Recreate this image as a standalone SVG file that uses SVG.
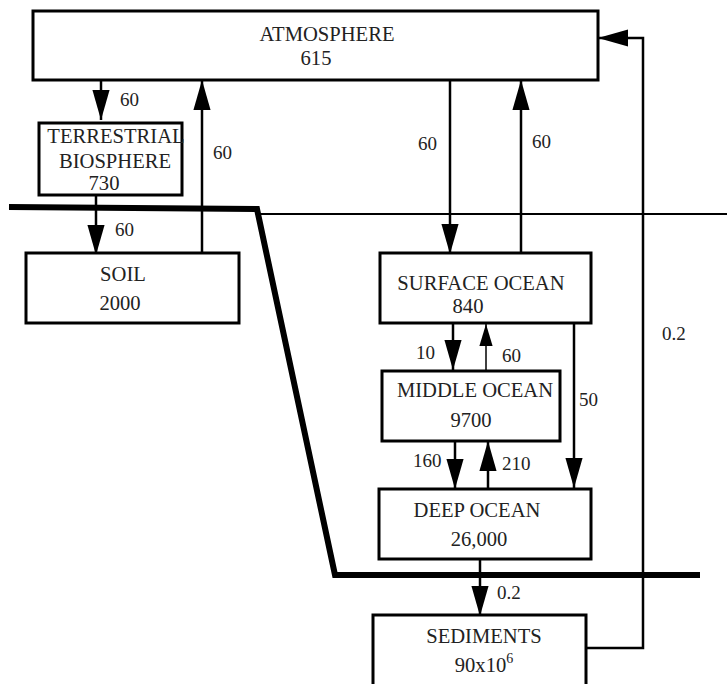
<svg xmlns="http://www.w3.org/2000/svg" width="727" height="684" viewBox="0 0 727 684">
<defs>
<style>
.box{fill:#fff;stroke:#000;stroke-width:3}
.t{font-family:"Liberation Serif","Times New Roman",serif;font-size:20.6px;fill:#222;text-anchor:middle}
.l{font-family:"Liberation Serif","Times New Roman",serif;font-size:19px;fill:#222}
.c{fill:none;stroke:#000;stroke-width:2.5}
.thin{fill:none;stroke:#000;stroke-width:1.5}
.bound{fill:none;stroke:#000;stroke-width:6;stroke-linejoin:miter}
</style>
<marker id="ah" markerUnits="userSpaceOnUse" markerWidth="30" markerHeight="20" viewBox="0 0 28 16" refX="28" refY="8" orient="auto">
<path d="M0,0 L28,8 L0,16 Z" fill="#000"/>
</marker>
<marker id="ahs" markerUnits="userSpaceOnUse" markerWidth="22" markerHeight="14" viewBox="0 0 20 12" refX="20" refY="6" orient="auto">
<path d="M0,0 L20,6 L0,12 Z" fill="#000"/>
</marker>
</defs>
<rect width="727" height="684" fill="#fff"/>
<g id="boundaries">
<path class="bound" d="M9,207 L257,209 L335,575 L700,575"/>
<path d="M257,214 L727,214" fill="none" stroke="#000" stroke-width="2"/>
</g>
<g id="connectors">
<path class="c" d="M101,80 L101,120" marker-end="url(#ah)"/>
<path class="c" d="M96,195 L96,255" marker-end="url(#ah)"/>
<path class="c" d="M202,253 L202,80" marker-end="url(#ah)"/>
<path class="c" d="M450,80 L450,254" marker-end="url(#ah)"/>
<path class="c" d="M521,253 L521,80" marker-end="url(#ah)"/>
<path class="c" d="M453,323 L453,370" marker-end="url(#ah)"/>
<path class="thin" d="M486,371 L486,324" marker-end="url(#ahs)"/>
<path class="c" d="M574,323 L574,488" marker-end="url(#ah)"/>
<path class="c" d="M455,441 L455,489" marker-end="url(#ah)"/>
<path class="c" d="M488,489 L488,441" marker-end="url(#ah)"/>
<path class="c" d="M480,559 L480,616" marker-end="url(#ah)"/>
<path class="c" d="M586,648 L643,648 L643,38 L598,38" marker-end="url(#ah)"/>
</g>
<g id="labels">
<text class="l" x="120" y="106">60</text>
<text class="l" x="213" y="159">60</text>
<text class="l" x="115" y="236">60</text>
<text class="l" x="418" y="150">60</text>
<text class="l" x="532" y="148">60</text>
<text class="l" x="662" y="340">0.2</text>
<text class="l" x="416" y="359">10</text>
<text class="l" x="502" y="362">60</text>
<text class="l" x="579" y="406">50</text>
<text class="l" x="413" y="467">160</text>
<text class="l" x="502" y="470">210</text>
<text class="l" x="497" y="599">0.2</text>
</g>
<g id="atmosphere">
<rect class="box" x="33" y="11" width="565" height="69"/>
<text class="t" x="327" y="41">ATMOSPHERE</text>
<text class="t" x="316" y="65">615</text>
</g>
<g id="terrestrial-biosphere">
<rect class="box" x="39" y="123" width="143" height="72"/>
<text class="t" x="116" y="143">TERRESTRIAL</text>
<text class="t" x="115" y="168">BIOSPHERE</text>
<text class="t" x="104" y="190">730</text>
</g>
<g id="soil">
<rect class="box" x="26" y="253" width="213" height="70"/>
<text class="t" x="123" y="281">SOIL</text>
<text class="t" x="120" y="310">2000</text>
</g>
<g id="surface-ocean">
<rect class="box" x="380" y="253" width="211" height="70"/>
<text class="t" x="481" y="290">SURFACE OCEAN</text>
<text class="t" x="468" y="313">840</text>
</g>
<g id="middle-ocean">
<rect class="box" x="382" y="371" width="178" height="70"/>
<text class="t" x="475" y="397">MIDDLE OCEAN</text>
<text class="t" x="471" y="427">9700</text>
</g>
<g id="deep-ocean">
<rect class="box" x="379" y="489" width="212" height="70"/>
<text class="t" x="477" y="517">DEEP OCEAN</text>
<text class="t" x="479" y="546">26,000</text>
</g>
<g id="sediments">
<rect class="box" x="373" y="615" width="213" height="80"/>
<text class="t" x="484" y="643">SEDIMENTS</text>
<text class="t" x="484" y="672">90x10<tspan font-size="14" dy="-9">6</tspan></text>
</g>
</svg>
